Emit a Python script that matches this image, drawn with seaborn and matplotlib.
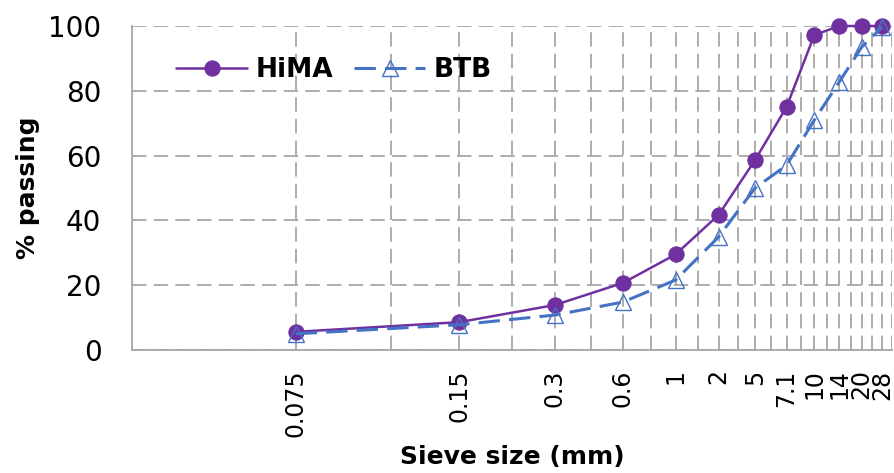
import numpy as np
import pandas as pd
import matplotlib
matplotlib.use("Agg")
import matplotlib.pyplot as plt
import matplotlib.ticker as mticker
import seaborn as sns

# ── data ──────────────────────────────────────────────────────────────────────
sieve_labels = ["0.075", "0.15", "0.3", "0.6", "1", "2", "5", "7.1", "10", "14", "20", "28"]
hima_passing = [5.6, 8.6, 13.9, 20.7, 29.5, 41.7, 58.6, 75.0, 97.2, 100, 100, 100]
btb_passing = [5.0, 7.8, 10.8, 14.8, 21.6, 34.9, 50.0, 57.0, 71.0, 82.7, 93.5, 99.7]

# sieves are plotted by their order (1..n) on a log axis
pos = np.arange(1, len(sieve_labels) + 1)
df = pd.DataFrame({"pos": pos, "HiMA": hima_passing, "BTB": btb_passing})

sns.set_style("white")
plt.rcParams["font.family"] = ["DejaVu Sans"]
plt.rcParams["text.color"] = "black"
plt.rcParams["axes.labelcolor"] = "black"
plt.rcParams["xtick.color"] = "black"
plt.rcParams["ytick.color"] = "black"

purple = "#7030A0"
blue = "#4472C4"
grid_grey = "#A6A6A6"

fig = plt.figure(figsize=(8.95, 4.73), dpi=100)
ax = fig.add_axes([0.1475, 0.26, 0.849, 0.685])

sns.lineplot(data=df, x="pos", y="HiMA", ax=ax, color=purple, lw=1.8,
             marker="o", markersize=11, markeredgecolor=purple,
             label="HiMA", clip_on=False, zorder=3)
sns.lineplot(data=df, x="pos", y="BTB", ax=ax, color=blue, lw=2.2,
             linestyle=(0, (7, 3)), marker="^", markersize=11,
             markerfacecolor="none", markeredgecolor=blue, markeredgewidth=1.0,
             label="BTB", clip_on=False, zorder=4)

ax.set_xscale("log")
ax.set_xlim(0.5, 12.5)
ax.set_ylim(0, 100)
ax.xaxis.set_major_locator(mticker.FixedLocator(pos))
ax.xaxis.set_major_formatter(mticker.FixedFormatter(sieve_labels))
ax.xaxis.set_minor_locator(mticker.FixedLocator(pos + 0.5))
ax.xaxis.set_minor_formatter(mticker.NullFormatter())
ax.set_yticks(np.arange(0, 101, 20))

grid_kw = dict(color=grid_grey, lw=1.3, linestyle=(0, (8, 4)))
ax.grid(True, which="both", axis="x", **grid_kw)
ax.grid(True, which="major", axis="y", **grid_kw)
ax.set_axisbelow(True)

for side in ["top", "right"]:
    ax.spines[side].set_visible(False)
for side in ["left", "bottom"]:
    ax.spines[side].set_color(grid_grey)
    ax.spines[side].set_linewidth(1.3)

ax.tick_params(axis="y", which="both", length=0, pad=22, labelsize=20)
ax.tick_params(axis="x", which="both", length=0, pad=14, labelsize=17, labelrotation=90)

ax.set_xlabel("Sieve size (mm)", fontsize=18, fontweight="bold", labelpad=6)
ax.set_ylabel("% passing", fontsize=18, fontweight="bold", labelpad=6)

leg = ax.legend(loc="upper left", bbox_to_anchor=(0.058, 0.905), ncol=2,
                frameon=False, borderpad=0, borderaxespad=0,
                handlelength=2.7, handletextpad=0.3, columnspacing=0.8,
                prop={"size": 19, "weight": "bold"})

fig.savefig("out.png", dpi=100)
